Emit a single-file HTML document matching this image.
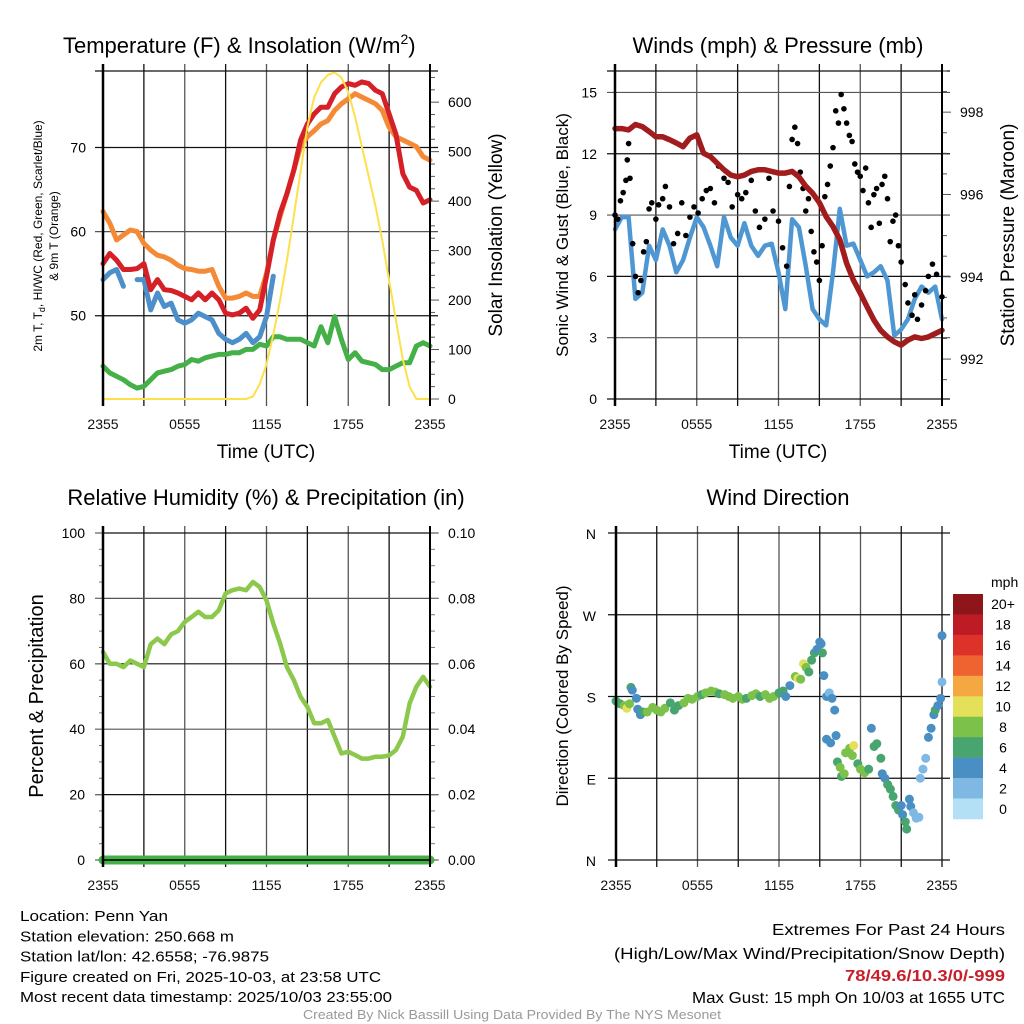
<!DOCTYPE html>
<html><head><meta charset="utf-8"><style>
html,body{margin:0;padding:0;background:#fff}
svg{display:block;font-family:"Liberation Sans",sans-serif}
</style></head><body>
<svg id="c" width="1024" height="1024" viewBox="0 0 1024 1024" xmlns="http://www.w3.org/2000/svg"></svg>
<script>
// ===== DATA =====
const hours = [0,0.5,1,1.5,2,2.5,3,3.5,4,4.5,5,5.5,6,6.5,7,7.5,8,8.5,9,9.5,10,10.5,11,11.5,12,12.5,13,13.5,14,14.5,15,15.5,16,16.5,17,17.5,18,18.5,19,19.5,20,20.5,21,21.5,22,22.5,23,23.5,24];
const xTickLabels = ["2355","0555","1155","1755","2355"];
const tempRed = [56.2,57.4,56.6,55.5,55.5,55.6,56.2,53.1,54.3,53.1,53,52.7,52.3,51.9,52.7,51.9,52.7,51.9,50.3,50.1,50.3,50.9,49.7,50.7,54.7,59,62.2,64.5,67.3,70.9,72.8,74,74.8,74.8,76.4,77.2,77.6,77.4,77.8,77.6,76.8,76.4,74,71.6,66.9,65.3,64.9,63.4,63.8];
const tempOrange = [62.4,61,59,59.6,60.2,60,58.6,57.8,57.2,57,56.6,56,55.6,55.5,55.3,55.3,55.5,53.5,52.1,52.1,52.3,52.7,52.3,52.3,55,59,61.8,64.5,67.3,70.1,71.3,72,72.8,73.2,74.4,75.2,75.8,76.4,76,75.6,75.2,74.4,72.4,71.3,70.9,70.5,70.1,68.9,68.5];
const windChillBlue = [54.3,55.1,55.5,53.5,null,54.3,54.3,50.7,52.7,51.1,51.5,49.5,49.1,49.5,50.3,49.9,49.5,47.9,47.2,46.8,47.2,47.9,46.8,47.5,49.9,54.7,null,null,null,null,null,null,null,null,null,null,null,null,null,null,null,null,null,null,null,null,null,null,null];
const dewGreen = [44,43.2,42.8,42.4,41.8,41.4,41.6,42.4,43.2,43.4,43.6,44,44.2,44.8,44.6,45,45.2,45.4,45.4,45.6,45.6,46,46,46.6,46.4,47.5,47.5,47.2,47.2,47.2,46.8,46.4,48.7,46.8,49.9,47.2,44.8,45.6,44.6,44.4,44.2,43.6,43.6,44,44.4,44.4,46.4,46.8,46.4];
const solar = [0,0,0,0,0,0,0,0,0,0,0,0,0,0,0,0,0,0,0,0,0,0,5,30,70,130,200,280,370,460,550,610,640,655,660,650,620,570,510,450,390,320,240,160,80,25,0,0,0];
const windSpeed = [8.3,8.9,8.9,4.9,5.2,7.5,6.8,8.3,7.5,6.2,6.8,7.9,8.9,8.4,7.5,6.5,8.9,7.9,7.5,8.6,7.5,7,7.5,7.6,6.2,4.4,8.8,8.4,6.5,4.4,3.9,3.6,6.2,9.3,7.5,7.6,6.8,6,6.2,6.5,5.8,3.1,3.4,3.9,4.9,5.5,5.2,5.5,3.9];
const gustT = [0,0.2,0.4,0.6,0.8,0.9,1,1.1,1.3,1.5,1.7,1.9,2.1,2.3,2.5,2.7,3,3.2,3.5,3.7,4,4.3,4.6,4.9,5.2,5.5,5.8,6.1,6.4,6.7,7,7.3,7.6,8,8.3,8.6,9,9.3,9.6,10,10.3,10.6,11,11.3,11.6,12,12.3,12.6,12.8,13,13.2,13.4,13.6,13.8,14,14.2,14.4,14.6,14.8,15,15.2,15.4,15.6,15.8,16,16.2,16.4,16.6,16.8,17,17.2,17.4,17.6,17.8,18,18.2,18.4,18.6,18.8,19,19.2,19.4,19.6,19.8,20,20.2,20.4,20.6,20.8,21,21.3,21.5,21.8,22,22.2,22.5,22.8,23,23.3,23.6,24];
const gustV = [9,8.8,9.7,10.1,10.7,11.7,12.5,10.8,7.6,6,5.2,5.8,7.2,7.7,9.3,9.6,8.8,9.5,9.8,10.4,9.4,7.6,8.1,9.6,8,8.9,9.4,9.1,9.8,10.2,10.3,9.6,11.4,10.8,10.6,9.4,10,9.8,10.1,10.7,9.2,8.4,8.8,10.8,9.2,8.7,7.4,6.5,10.4,12.7,13.3,12.5,11.1,10.3,9.2,9.8,8.2,7.2,6.7,5.8,7.5,9.9,10.5,11.4,12.3,14.1,13.5,14.9,14.2,13.5,12.9,12.6,11.5,11.1,10.9,10.2,11.3,9.6,8.4,10,10.3,8.6,10.5,10.9,9.8,7.7,8.7,9,7.5,6.7,5.6,4.7,4.1,5.1,3.9,4.6,5.3,6,6.6,6.1,5];
const pressure = [997.6,997.6,997.57,997.7,997.65,997.53,997.4,997.4,997.33,997.25,997.16,997.37,997.45,997,996.92,996.76,996.6,996.47,996.43,996.47,996.56,996.6,996.6,996.56,996.52,996.52,996.56,996.43,996.2,996.03,995.8,995.46,995.22,994.9,994.33,993.92,993.6,993.27,992.95,992.7,992.54,992.42,992.34,992.46,992.54,992.5,992.54,992.62,992.7];
const rh = [63.6,60,60,59,61,60,59,66,67.7,66,69,70,72.8,74.3,75.9,74.3,74.3,76.4,81.5,82.5,83,82.5,85,83.5,79.4,72.3,66.2,59,55,49.9,46.8,41.8,41.8,42.8,37.7,32.6,33.1,32.1,31,31,31.6,31.6,32,33.6,37.7,47.9,53,56,53];
const precip = [0,0,0,0,0,0,0,0,0,0,0,0,0,0,0,0,0,0,0,0,0,0,0,0,0,0,0,0,0,0,0,0,0,0,0,0,0,0,0,0,0,0,0,0,0,0,0,0,0];
const dirT = [0,0.3,0.6,0.8,1,1.1,1.2,1.5,1.6,1.8,2,2.3,2.7,3,3.3,3.6,4,4.3,4.6,5,5.3,5.6,6,6.3,6.6,7,7.3,7.6,8,8.3,8.6,9,9.3,9.6,10,10.3,10.6,11,11.3,11.6,12,12.3,12.5,12.8,13.2,13.4,13.6,13.8,14,14.2,14.4,14.6,14.8,15,15.1,15.2,15.3,15.5,15.7,15.9,16.1,15.5,15.8,16.2,16.3,16.5,16.6,16.8,16.9,17.2,17.5,17.4,17.8,18,18.3,18.6,18.8,19,19.2,19.5,19.6,19.8,20,20.2,20.4,20.6,20.8,21,21.1,21.3,21.4,21.6,21.7,21.9,22.1,22.3,22.4,22.6,22.8,23,23.2,23.4,23.5,23.7,23.9,24,24];
const dirDeg = [175,172,170,167,172,190,187,178,166,160,163,163,168,165,163,167,173,165,170,173,178,177,180,182,184,186,185,183,182,180,178,180,177,178,181,183,180,182,178,180,184,186,180,192,202,200,199,216,212,207,220,228,232,240,238,228,203,180,184,178,165,133,129,137,108,102,92,95,118,123,126,115,106,100,96,100,145,125,128,112,95,90,83,78,70,60,55,60,50,42,34,67,59,52,46,47,90,100,112,135,145,160,165,170,178,196,247];
const dirSpd = [7,7,9,11,9,7,5,5,5,5,7,9,9,9,9,9,7,7,7,9,9,9,9,7,9,9,9,7,9,9,9,9,9,7,9,9,7,9,9,9,7,7,5,5,9,11,9,11,9,7,7,7,5,5,5,7,5,5,3,5,5,5,5,5,7,9,7,9,9,9,11,9,7,9,9,7,5,7,7,7,5,5,7,7,7,7,7,5,5,7,7,5,5,3,3,3,3,3,3,5,5,5,7,5,5,3,5];
const legendLabels = ["20+","18","16","14","12","10","8","6","4","2","0"];
const legendColors = ["#8e161a","#bd1c25","#dc3229","#ef6331","#f5a742","#e5e05a","#7cc24a","#48a56f","#4a8fc4","#7fb9e3","#b3e0f5"];

// ===== DRAW =====
const svg = document.getElementById('c');
const NS = 'http://www.w3.org/2000/svg';
function mk(tag, attrs, parent){const e=document.createElementNS(NS,tag);for(const k in attrs)e.setAttribute(k,attrs[k]);(parent||svg).appendChild(e);return e;}
function txt(s, attrs, parent){const e=mk('text',attrs,parent);e.textContent=s;return e;}
function speedColor(s){let i=Math.min(10,Math.floor(s/2));return legendColors[10-i];}

function panel(name,x0,x1,y0,y1){
  const g=mk('g',{});
  
  
  const xs=t=>x0+(t/24)*(x1-x0);
  for(let h=0;h<=24;h+=3){
    const x=xs(h);
    const l=mk('line',{x1:x,x2:x,y1:y0-7,y2:y1+7,stroke:(h%6===0&&h%12!==0||h===12)?'#555':'#111','stroke-width':1.3},g);
    
    
  }
  xTickLabels.forEach((s,i)=>{
    const t=txt(s,{x:xs(i*6),y:y1+30,'font-size':14,'text-anchor':'middle',fill:'#111'},g);
    
    
  });
  return {g,xs};
}
function hgrid(g,x0,x1,y,col){mk('line',{x1:x0-8,x2:x1+8,y1:y,y2:y,stroke:col||'#111','stroke-width':1.2},g);}
function linePath(g,xs,ys,tv,vals,color,w,name){
  let d='',pen=false;
  vals.forEach((v,i)=>{if(v===null){pen=false;return;}d+=(pen?'L':'M')+xs(tv[i]).toFixed(1)+','+ys(v).toFixed(1);pen=true;});
  const p=mk('path',{d:d,fill:'none',stroke:color,'stroke-width':w,'stroke-linejoin':'round','stroke-linecap':'round'},g);
  
  
  return p;
}
function frame(g,x0,x1,y0,y1){mk('line',{x1:x0,x2:x0,y1:y0-7,y2:y1+7,stroke:'#000','stroke-width':2.5},g);mk('line',{x1:x1,x2:x1,y1:y0-7,y2:y1+7,stroke:'#000','stroke-width':2},g);}

// --- Panel 1: temperature ---
(function(){
  const x0=103,x1=430,y0=71,y1=399;
  const {g,xs}=panel('temperature-panel',x0,x1,y0,y1);
  const ys=v=>y1-(v-40.1)/(79.1-40.1)*(y1-y0);
  const ysR=v=>y1-v/663*(y1-y0);
  hgrid(g,x0,x1,y0);
  [50,60,70].forEach(v=>{hgrid(g,x0,x1,ys(v),v===60?'#555':'#111');
    const t=txt(String(v),{x:x0-17,y:ys(v)+5,'font-size':14,'text-anchor':'end'},g);
    
    });
  for(let v=0;v<=650;v+=25){const y=ysR(v);mk('line',{x1:x1,x2:x1+(v%100===0?9:5),y1:y,y2:y,stroke:'#555','stroke-width':1},g);
    if(v%100===0){const t=txt(String(v),{x:x1+18,y:y+5,'font-size':14},g);
    
    }}
  linePath(g,xs,ys,hours,dewGreen,'#44b047',5,'dewpoint-line');
  linePath(g,xs,ys,hours,tempOrange,'#f58a36',5,'temp-9m-line');
  linePath(g,xs,ys,hours,windChillBlue,'#4d8fca',5,'windchill-line');
  linePath(g,xs,ys,hours,tempRed,'#d62028',5,'temp-2m-line');
  linePath(g,xs,ysR,hours,solar,'#fde04a',2,'solar-line');
  frame(g,x0,x1,y0,y1);
  const tt=txt('Temperature (F) & Insolation (W/m',{x:63,y:53,'font-size':22},g);
  const sup=mk('tspan',{dy:-9,'font-size':14},tt);sup.textContent='2';
  const cl=mk('tspan',{dy:9,'font-size':22},tt);cl.textContent=')';
  
  
  const xl=txt('Time (UTC)',{x:266,y:458,'font-size':19,'text-anchor':'middle'},g);
  
  
  const yl=mk('text',{transform:'translate(42,236) rotate(-90)','font-size':12,'text-anchor':'middle'},g);
  yl.innerHTML='2m T, T<tspan dy="3" font-size="9">d</tspan><tspan dy="-3">, HI/WC (Red, Green, Scarlet/Blue)</tspan>';
  
  
  const yl2=txt('& 9m T (Orange)',{transform:'translate(58,236) rotate(-90)','font-size':12,'text-anchor':'middle'},g);
  
  
  const yr=txt('Solar Insolation (Yellow)',{transform:'translate(502,235) rotate(-90)','font-size':19,'text-anchor':'middle'},g);
  
  
})();

// --- Panel 2: winds ---
(function(){
  const x0=615,x1=942,y0=71,y1=399;
  const {g,xs}=panel('winds-panel',x0,x1,y0,y1);
  const ys=v=>y1-v/16.05*(y1-y0);
  const ysR=v=>y1-(v-991.03)/(999.0-991.03)*(y1-y0);
  hgrid(g,x0,x1,y0);
  [0,3,6,9,12,15].forEach(v=>{hgrid(g,x0,x1,ys(v),(v===3||v===9||v===15)?'#555':'#111');
    const t=txt(String(v),{x:x0-18,y:ys(v)+5,'font-size':14,'text-anchor':'end'},g);
    
    });
  for(let v=991.5;v<=999;v+=0.5){const y=ysR(v);const maj=Math.abs(v%2)<0.01;mk('line',{x1:x1,x2:x1+(maj?9:5),y1:y,y2:y,stroke:'#555','stroke-width':1},g);
    if(maj){const t=txt(String(v),{x:x1+18,y:y+5,'font-size':14},g);
    
    }}
  linePath(g,xs,ys,hours,windSpeed,'#4f97d3',4.5,'wind-speed-line');
  gustT.forEach((t,i)=>{const c=mk('circle',{cx:xs(t),cy:ys(gustV[i]),r:2.8,fill:'#000'},g);
    
    });
  linePath(g,xs,ysR,hours,pressure,'#a11c1c',5.5,'pressure-line');
  frame(g,x0,x1,y0,y1);
  const tt=txt('Winds (mph) & Pressure (mb)',{x:778,y:53,'font-size':22,'text-anchor':'middle'},g);
  
  
  const xl=txt('Time (UTC)',{x:778,y:458,'font-size':19,'text-anchor':'middle'},g);
  
  
  const yl=txt('Sonic Wind & Gust (Blue, Black)',{transform:'translate(568,235) rotate(-90)','font-size':17,'text-anchor':'middle'},g);
  
  
  const yr=txt('Station Pressure (Maroon)',{transform:'translate(1014,235) rotate(-90)','font-size':19,'text-anchor':'middle'},g);
  
  
})();

// --- Panel 3: RH ---
(function(){
  const x0=103,x1=430,y0=533,y1=860;
  const {g,xs}=panel('humidity-panel',x0,x1,y0,y1);
  const ys=v=>y1-v/100*(y1-y0);
  const ysR=v=>y1-v/0.1*(y1-y0);
  [0,20,40,60,80,100].forEach(v=>{hgrid(g,x0,x1,ys(v),(v===40||v===80)?'#555':'#111');
    const t=txt(String(v),{x:x0-18,y:ys(v)+5,'font-size':14,'text-anchor':'end'},g);
    
    });
  for(let v=0;v<=100;v+=5){const y=ys(v);mk('line',{x1:x0-(v%20===0?8:4),x2:x0,y1:y,y2:y,stroke:'#777','stroke-width':1},g);mk('line',{x1:x1,x2:x1+(v%20===0?9:5),y1:y,y2:y,stroke:'#777','stroke-width':1},g);}
  [0,0.02,0.04,0.06,0.08,0.1].forEach(v=>{const t=txt(v.toFixed(2),{x:x1+18,y:ysR(v)+5,'font-size':14},g);
    
    });
  linePath(g,xs,ys,hours,rh,'#8cc84b',4.5,'rh-line');
  linePath(g,xs,ysR,hours,precip,'#44b047',9,'precip-line');
  frame(g,x0,x1,y0,y1);
  mk('line',{x1:x0,x2:x1,y1:y1,y2:y1,stroke:'#000','stroke-width':1.5},g);
  const tt=txt('Relative Humidity (%) & Precipitation (in)',{x:266,y:505,'font-size':22,'text-anchor':'middle'},g);
  
  
  const yl=txt('Percent & Precipitation',{transform:'translate(43,696) rotate(-90)','font-size':20,'text-anchor':'middle'},g);
  
  
})();

// --- Panel 4: wind direction ---
(function(){
  const x0=616,x1=942,y0=533,y1=860;
  const {g,xs}=panel('wind-direction-panel',x0,x1,y0,y1);
  const ys=v=>y1-v/360*(y1-y0);
  const dl=['N','E','S','W','N'];
  [0,90,180,270,360].forEach((v,i)=>{hgrid(g,x0,x1,ys(v));
    const t=txt(dl[i],{x:x0-20,y:ys(v)+6,'font-size':14,'text-anchor':'end'},g);
    
    });
  dirT.forEach((t,i)=>{const c=mk('circle',{cx:xs(t),cy:ys(dirDeg[i]),r:4.5,fill:speedColor(dirSpd[i])},g);
    
    });
  mk('line',{x1:x0,x2:x0,y1:y0-7,y2:y1+7,stroke:'#000','stroke-width':2.5},g);
  const tt=txt('Wind Direction',{x:778,y:505,'font-size':22,'text-anchor':'middle'},g);
  
  
  const yl=txt('Direction (Colored By Speed)',{transform:'translate(568,696) rotate(-90)','font-size':17,'text-anchor':'middle'},g);
  
  
  const lg=mk('g',{},g);
  
  
  txt('mph',{x:991,y:587,'font-size':14},lg);
  const bh=(819-594)/11;
  legendLabels.forEach((s,i)=>{
    const r=mk('rect',{x:953,y:594+i*bh,width:30,height:bh+0.3,fill:legendColors[i]},lg);
    
    
    const t=txt(s,{x:1003,y:594+i*bh+bh/2+5,'font-size':14,'text-anchor':'middle'},lg);
    
    
  });
})();

// --- Footer ---
const foot=mk('g',{});


const leftLines=[['Location: Penn Yan',148],['Station elevation: 250.668 m',214],['Station lat/lon: 42.6558; -76.9875',249],['Figure created on Fri, 2025-10-03, at 23:58 UTC',361],['Most recent data timestamp: 2025/10/03 23:55:00',372]];
leftLines.forEach((l,i)=>{const t=txt(l[0],{x:20,y:921+i*20.3,'font-size':15,textLength:l[1],lengthAdjust:'spacingAndGlyphs'},foot);
  
  });
const r1=txt('Extremes For Past 24 Hours',{x:1005,y:935,'font-size':16,'text-anchor':'end',textLength:233,lengthAdjust:'spacingAndGlyphs'},foot);


const r2=txt('(High/Low/Max Wind/Precipitation/Snow Depth)',{x:1005,y:959,'font-size':16,'text-anchor':'end',textLength:391,lengthAdjust:'spacingAndGlyphs'},foot);


const r3=txt('78/49.6/10.3/0/-999',{x:1005,y:981,'font-size':16,'font-weight':'bold',fill:'#c8202a','text-anchor':'end',textLength:160,lengthAdjust:'spacingAndGlyphs'},foot);


const r4=txt('Max Gust: 15 mph On 10/03 at 1655 UTC',{x:1005,y:1003,'font-size':16,'text-anchor':'end',textLength:313,lengthAdjust:'spacingAndGlyphs'},foot);


const cr=txt('Created By Nick Bassill Using Data Provided By The NYS Mesonet',{x:512,y:1019,'font-size':13,fill:'#999','text-anchor':'middle',textLength:418,lengthAdjust:'spacingAndGlyphs'},foot);


</script>
</body></html>
